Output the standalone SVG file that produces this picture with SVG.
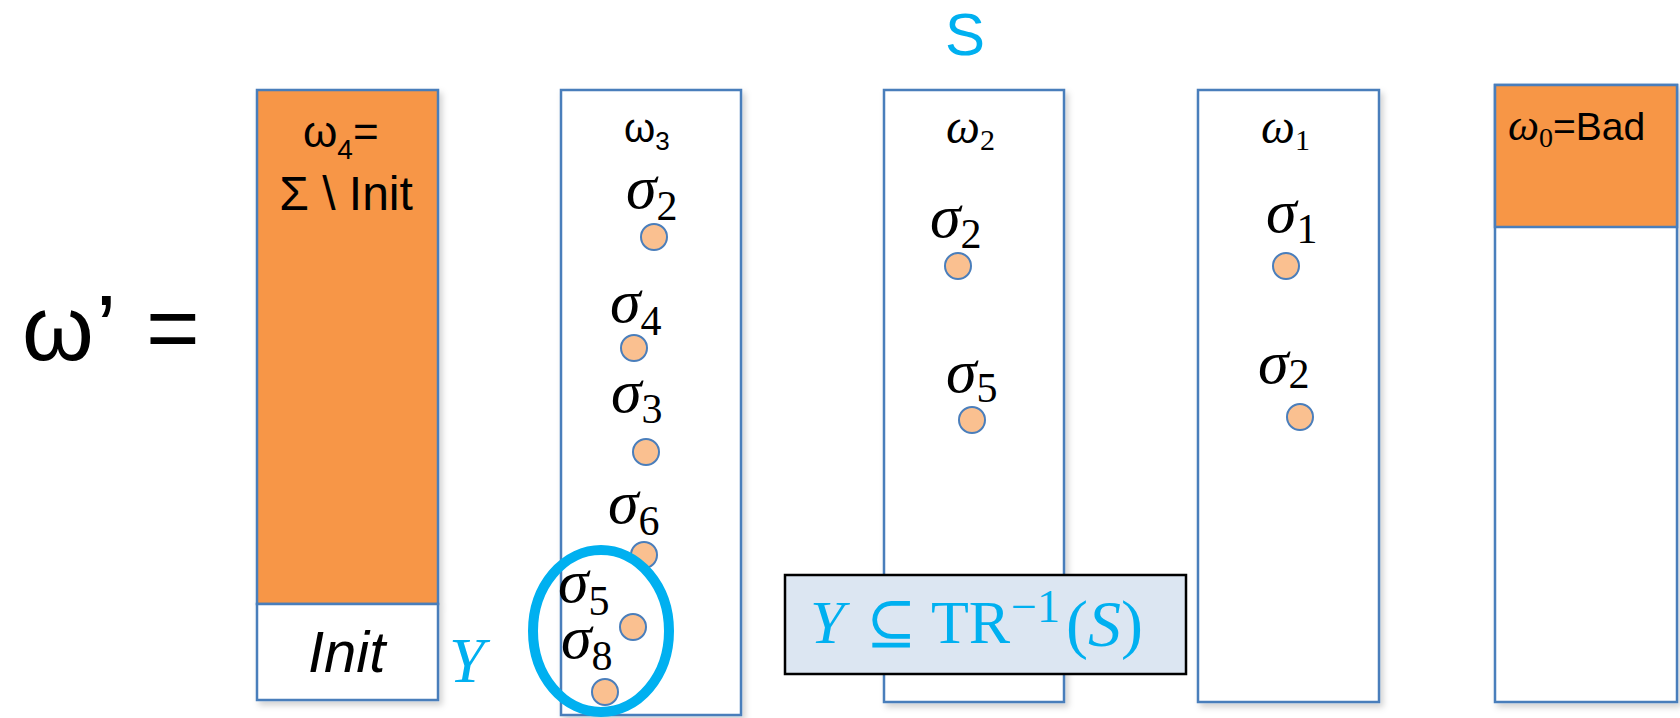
<svg xmlns="http://www.w3.org/2000/svg" width="1680" height="718" viewBox="0 0 1680 718">
<defs>
<filter id="sh" x="-10%" y="-10%" width="130%" height="130%">
<feDropShadow dx="3" dy="4" stdDeviation="3" flood-color="#000" flood-opacity="0.18"/>
</filter>
<style>
.box{fill:#fff;stroke:#4A7EBB;stroke-width:2.5}
.org{fill:#F79646;stroke:#4A7EBB;stroke-width:2.5}
.dot{fill:#FAC090;stroke:#4A7EBB;stroke-width:2}
.sig{font-family:"Liberation Serif","DejaVu Serif",serif;font-style:italic;font-size:62px;fill:#000}
.sub{font-family:"Liberation Serif","DejaVu Serif",serif;font-style:normal;font-size:42px}
.cal{font-family:"Liberation Sans","DejaVu Sans",sans-serif;fill:#000}
.mth{font-family:"Liberation Serif","DejaVu Serif",serif;fill:#000}
.blue{fill:#00B0F0}
</style>
</defs>

<text class="cal blue" x="965" y="55" font-size="60" text-anchor="middle">S</text>
<text class="cal" y="360" font-size="92"><tspan x="22">ω</tspan><tspan x="96">’</tspan><tspan x="146">=</tspan></text>

<g id="node-w4" filter="url(#sh)">
<rect class="org" x="257" y="90" width="181" height="514"/>
<rect class="box" x="257" y="604" width="181" height="96"/>
</g>
<g id="node-w4-text">
<text class="cal" x="303" y="147" font-size="44">ω<tspan font-size="28" dy="12">4</tspan><tspan dy="-12">=</tspan></text>
<text class="cal" x="346" y="210" font-size="48" text-anchor="middle">Σ \ Init</text>
<text class="cal" x="308" y="672" font-size="58" font-style="italic">Init</text>
</g>
<text class="mth blue" x="449" y="682" font-size="64" font-style="italic">Y</text>

<g id="node-w3">
<rect class="box" x="561" y="90" width="180" height="625" filter="url(#sh)"/>
<text class="cal" x="624" y="142" font-size="40">ω<tspan font-size="26" dy="8">3</tspan></text>
<circle class="dot" cx="654" cy="237" r="13"/>
<circle class="dot" cx="634" cy="348" r="13"/>
<circle class="dot" cx="646" cy="452" r="13"/>
<circle class="dot" cx="644" cy="555" r="13"/>
<circle class="dot" cx="633" cy="627" r="13"/>
<circle class="dot" cx="605" cy="692" r="13"/>
<text class="sig" x="626" y="208">σ<tspan class="sub" dy="12">2</tspan></text>
<text class="sig" x="610" y="322">σ<tspan class="sub" dy="13">4</tspan></text>
<text class="sig" x="611" y="412">σ<tspan class="sub" dy="11">3</tspan></text>
<text class="sig" x="608" y="523">σ<tspan class="sub" dy="12">6</tspan></text>
<text class="sig" x="558" y="602">σ<tspan class="sub" dy="13">5</tspan></text>
<text class="sig" x="561" y="658">σ<tspan class="sub" dy="12">8</tspan></text>
</g>

<g id="node-w2">
<rect class="box" x="884" y="90" width="180" height="612" filter="url(#sh)"/>
<text class="mth" x="946" y="143" font-size="48" font-style="italic">ω<tspan font-size="30" font-style="normal" dy="7">2</tspan></text>
<circle class="dot" cx="958" cy="266" r="13"/>
<circle class="dot" cx="972" cy="420" r="13"/>
<text class="sig" x="930" y="237">σ<tspan class="sub" dy="11">2</tspan></text>
<text class="sig" x="946" y="392">σ<tspan class="sub" dy="10">5</tspan></text>
</g>

<g id="node-w1">
<rect class="box" x="1198" y="90" width="181" height="612" filter="url(#sh)"/>
<text class="mth" x="1261" y="143" font-size="48" font-style="italic">ω<tspan font-size="30" font-style="normal" dy="7">1</tspan></text>
<circle class="dot" cx="1286" cy="266" r="13"/>
<circle class="dot" cx="1300" cy="417" r="13"/>
<text class="sig" x="1266" y="232">σ<tspan class="sub" dy="11">1</tspan></text>
<text class="sig" x="1258" y="383">σ<tspan class="sub" dy="5">2</tspan></text>
</g>

<g id="node-w0">
<rect class="box" x="1495" y="85" width="182" height="617" filter="url(#sh)"/>
<rect class="org" x="1495" y="85" width="182" height="142"/>
<text class="mth" x="1508" y="140" font-size="44" font-style="italic">ω<tspan font-size="28" font-style="normal" dy="7">0</tspan><tspan class="cal" font-style="normal" font-size="39" dy="-7">=Bad</tspan></text>
</g>

<g id="node-Y">
<ellipse cx="601" cy="631" rx="68" ry="81" fill="none" stroke="#00B0F0" stroke-width="10"/>
</g>

<g id="node-formula">
<rect x="785" y="575" width="401" height="99" fill="#DCE6F2" stroke="#000" stroke-width="2.5"/>
<text class="mth blue" x="810" y="643" font-size="62" font-style="italic">Y</text>
<text class="mth blue" x="866" y="643" font-size="60">⊆</text>
<text class="mth blue" x="931" y="643" font-size="62">TR</text>
<text class="mth blue" x="1011" y="622" font-size="46">−1</text>
<text class="mth blue" x="1066" y="646" font-size="66">(<tspan font-style="italic">S</tspan>)</text>
</g>

<g id="connectors"/>
</svg>
